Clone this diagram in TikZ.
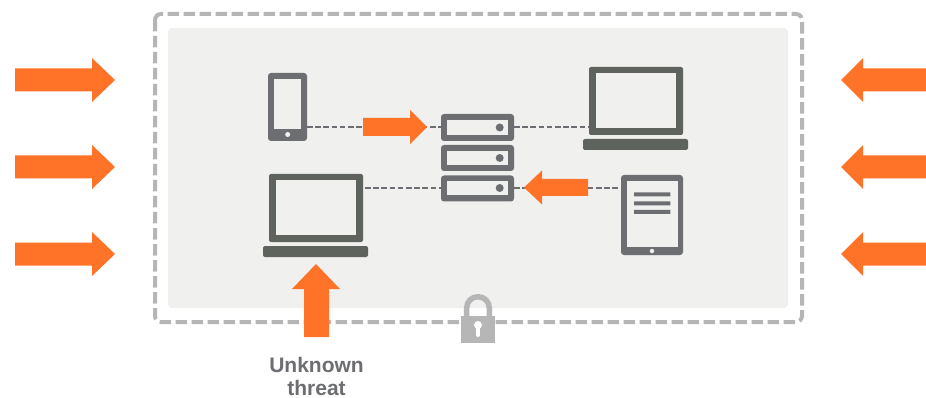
\documentclass[tikz,border=0pt]{standalone}
\usepackage{fontspec}
\setmainfont{Liberation Sans}
\definecolor{panelgray}{HTML}{F0F0EF}
\definecolor{framegray}{HTML}{B5B6B5}
\definecolor{devgray}{HTML}{6D6E71}
\definecolor{lapgray}{HTML}{5F635E}
\definecolor{threat}{HTML}{FF7329}
\newcommand{\hArrow}[6]{\fill[threat] (#1,#4-#5) -- (#2,#4-#5) -- (#2,#4-#6) -- (#3,#4) -- (#2,#4+#6) -- (#2,#4+#5) -- (#1,#4+#5) -- cycle;}
\begin{document}
\begin{tikzpicture}[x=1pt,y=-1pt,
  devbody/.style={fill=devgray,rounded corners=3pt,inner sep=0pt,outer sep=0pt},
  lapbody/.style={fill=lapgray,rounded corners=2pt,inner sep=0pt,outer sep=0pt},
  screen/.style={fill=panelgray,inner sep=0pt,outer sep=0pt},
  link/.style={draw=devgray,line width=2pt,dash pattern=on 5.5pt off 2.7pt},
  label/.style={font=\bfseries\fontsize{21}{23}\selectfont,text=devgray,align=center,inner sep=0pt}]
\useasboundingbox (0,0) rectangle (926,398);
\fill[white] (0,0) rectangle (926,398);
% panel and frame
\fill[panelgray,rounded corners=4pt] (168,28) rectangle (788,308);
\draw[framegray,line width=4pt,rounded corners=6pt,dash pattern=on 11.5pt off 4.5pt] (155,14) rectangle (802,322);
% phone
\node[devbody,minimum width=39pt,minimum height=68pt] (phone) at (287.5,107) {};
\node[screen,minimum width=27pt,minimum height=50pt] (phonescreen) at (287.5,104) {};
\node[circle,fill=panelgray,minimum size=5pt,inner sep=0pt] (phonebtn) at (287.7,134.5) {};
% left laptop
\node[lapbody,minimum width=94pt,minimum height=68pt] (lapL) at (316,208) {};
\node[screen,minimum width=80pt,minimum height=55pt] (lapLscreen) at (316,207.5) {};
\node[lapbody,minimum width=105pt,minimum height=11pt] (lapLbase) at (315.5,251.5) {};
% right laptop
\node[lapbody,minimum width=94pt,minimum height=68pt] (lapR) at (636,101) {};
\node[screen,minimum width=80pt,minimum height=55pt] (lapRscreen) at (636,100.5) {};
\node[lapbody,minimum width=105pt,minimum height=11pt] (lapRbase) at (635.5,144.5) {};
% servers
\node[devbody,minimum width=73pt,minimum height=27pt] (srvA) at (477.5,127.5) {};
\node[screen,minimum width=61pt,minimum height=15pt] (srvAin) at (477.5,127.5) {};
\node[circle,fill=devgray,minimum size=8pt,inner sep=0pt] (srvAdot) at (499.7,127.5) {};
\node[devbody,minimum width=73pt,minimum height=26pt] (srvB) at (477.5,158) {};
\node[screen,minimum width=61pt,minimum height=14pt] (srvBin) at (477.5,158) {};
\node[circle,fill=devgray,minimum size=8pt,inner sep=0pt] (srvBdot) at (499.7,158) {};
\node[devbody,minimum width=73pt,minimum height=26pt] (srvC) at (477.5,188.5) {};
\node[screen,minimum width=61pt,minimum height=14pt] (srvCin) at (477.5,188.5) {};
\node[circle,fill=devgray,minimum size=8pt,inner sep=0pt] (srvCdot) at (499.7,188) {};
% tablet
\node[devbody,minimum width=62pt,minimum height=80pt] (tablet) at (652,215) {};
\node[screen,minimum width=51pt,minimum height=66pt] (tabletscreen) at (652.3,214) {};
\node[circle,fill=panelgray,minimum size=4.5pt,inner sep=0pt] (tabletbtn) at (652,251) {};
\fill[devgray] (634,192.3) rectangle (670.3,196.3) (634,201.5) rectangle (670.3,205.5) (634,210) rectangle (670.3,214);
% connectors
\draw[link] (phone.east |- srvA.west) -- (srvA.west);
\draw[link] (srvA.east) -- (lapR.west |- srvA.east);
\draw[link] ([xshift=2pt]lapL.east |- srvC.west) -- (srvC.west);
\draw[link] (srvC.east) -- (tablet.west |- srvC.east);
% arrows
\hArrow{15}{92}{115}{80}{11.5}{22}
\hArrow{15}{92}{115}{167}{11.5}{22}
\hArrow{15}{92}{115}{254}{11.5}{22}
\hArrow{926}{863}{841}{80}{11.5}{22}
\hArrow{926}{863}{841}{167}{11.5}{22}
\hArrow{926}{863}{841}{254}{11.5}{22}
\hArrow{363}{410}{427}{127}{9}{17}
\hArrow{588}{542}{524}{187.5}{8.5}{17}
\fill[threat] (304,337) -- (304,289) -- (292,289) -- (316,264) -- (340,289) -- (329,289) -- (329,337) -- cycle;
% lock
\draw[framegray,line width=5.5pt,rounded corners=11pt] (466.7,320) -- (466.7,296.8) -- (489.3,296.8) -- (489.3,320);
\fill[framegray] (461,316) rectangle (495.3,343);
\fill[white] (478,325) circle (4pt);
\draw[white,line width=4pt,line cap=round] (478,325) -- (478,335);
% text
\node[label,anchor=base] (unknown) at (316.5,372) {Unknown};
\node[label,anchor=base] (threatlabel) at (316.5,395) {threat};
\end{tikzpicture}
\end{document}
